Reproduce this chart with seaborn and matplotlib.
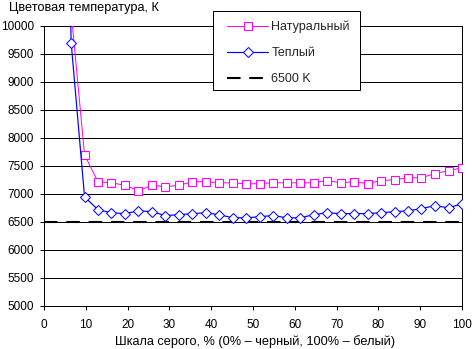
import matplotlib
matplotlib.use("Agg")
import matplotlib.pyplot as plt
import seaborn as sns
from matplotlib.patches import Rectangle

# gray level, % (points every 1/31 of full scale)
gray_pct = [3.2, 6.5, 9.7, 12.9, 16.1, 19.4, 22.6, 25.8, 29.0, 32.3, 35.5,
            38.7, 41.9, 45.2, 48.4, 51.6, 54.8, 58.1, 61.3, 64.5, 67.7,
            71.0, 74.2, 77.4, 80.6, 83.9, 87.1, 90.3, 93.5, 96.8, 100.0]
# colour temperature, K (first points are off the chart)
natural_k = [22000, 10250, 7700, 7220, 7200, 7155, 7060, 7155, 7130, 7155, 7220,
             7220, 7200, 7200, 7180, 7185, 7200, 7200, 7200, 7200, 7240,
             7200, 7220, 7185, 7240, 7255, 7290, 7290, 7365, 7415, 7470]
warm_k = [20000, 9700, 6950, 6720, 6665, 6650, 6700, 6685, 6615, 6630, 6650,
          6665, 6630, 6575, 6575, 6595, 6615, 6575, 6575, 6630, 6665,
          6650, 6650, 6650, 6665, 6685, 6700, 6740, 6790, 6755, 6825]
ref_k = 6500
x_ticks = list(range(0, 101, 10))
y_ticks = list(range(5000, 10001, 500))
y_min, y_max = 5000, 10000
x_min, x_max = 0, 100

label_natural = "Натуральный"
label_warm = "Теплый"
label_ref = "6500 K"
title_y = "Цветовая температура, К"
title_x = "Шкала серого, % (0% – черный, 100% – белый)"

sns.set_theme(style="white")
plt.rcParams['font.family'] = ['Liberation Sans', 'DejaVu Sans']
FS = 8.5
FS_TITLE = 9.2
FS_LEG = 9.0
plt.rcParams['font.size'] = FS

W, H = 472, 349
fig = plt.figure(figsize=(W / 100, H / 100), dpi=100)
ax = fig.add_axes([44 / W, (H - 306) / H, 418 / W, 280 / H])

PX = 0.72  # one pixel in points

ax.axhline(ref_k, color="black", lw=1.5, dashes=(6.5, 4.2), label=label_ref,
           zorder=3)

vis_nat = [i for i, v in enumerate(natural_k) if v <= y_max]
vis_warm = [i for i, v in enumerate(warm_k) if v <= y_max]

sns.lineplot(x=gray_pct, y=natural_k, ax=ax, color="#FF00FF", lw=PX,
             marker="s", markersize=5.2, markerfacecolor="white",
             markeredgecolor="#FF00FF", markeredgewidth=PX * 1.1,
             markevery=vis_nat, label=label_natural, estimator=None,
             sort=False, zorder=4)
sns.lineplot(x=gray_pct, y=warm_k, ax=ax, color="#0000FF", lw=PX * 1.2,
             marker="D", markersize=4.8, markerfacecolor="white",
             markeredgecolor="#0000FF", markeredgewidth=PX,
             markevery=vis_warm, label=label_warm, estimator=None,
             sort=False, zorder=5)

ax.set_xlim(x_min, x_max)
ax.set_ylim(y_min, y_max)
ax.set_xticks(x_ticks)
ax.set_yticks(y_ticks)
ax.set_xlabel("")
ax.set_ylabel("")
ax.yaxis.grid(True, color="black", lw=PX)
ax.xaxis.grid(False)
ax.set_axisbelow(True)
for s in ax.spines.values():
    s.set_visible(True)
    s.set_color("black")
    s.set_linewidth(PX)
ax.tick_params(axis="both", which="major", direction="out", length=3.2,
               width=PX, color="black", labelsize=FS, labelcolor="black",
               bottom=True, left=True)
ax.tick_params(axis="x", pad=6.3)
ax.tick_params(axis="y", pad=4.0)

fig.text(9 / W, 1 - 8 / H, title_y, ha="left", va="center",
         fontsize=FS_TITLE, color="black")
fig.text(255 / W, 1 - 342 / H, title_x, ha="center", va="center",
         fontsize=FS_TITLE, color="black")

# legend box
rect = Rectangle((213 / W, 1 - 90 / H), (360 - 213) / W, (90 - 11) / H,
                 transform=fig.transFigure, facecolor="white",
                 edgecolor="black", lw=PX, clip_on=False, zorder=6)
ax.add_patch(rect)

handles, labels = ax.get_legend_handles_labels()
order = [labels.index(label_natural), labels.index(label_warm),
         labels.index(label_ref)]
leg = ax.legend([handles[i] for i in order], [labels[i] for i in order],
                loc="upper left", bbox_to_anchor=(227 / W, 1 - 20.5 / H),
                bbox_transform=fig.transFigure, frameon=False, borderpad=0,
                borderaxespad=0, handlelength=3.3, handletextpad=0.25,
                labelspacing=1.13, numpoints=1, fontsize=FS_LEG)
leg.set_zorder(7)

fig.savefig("out.png", dpi=100)
